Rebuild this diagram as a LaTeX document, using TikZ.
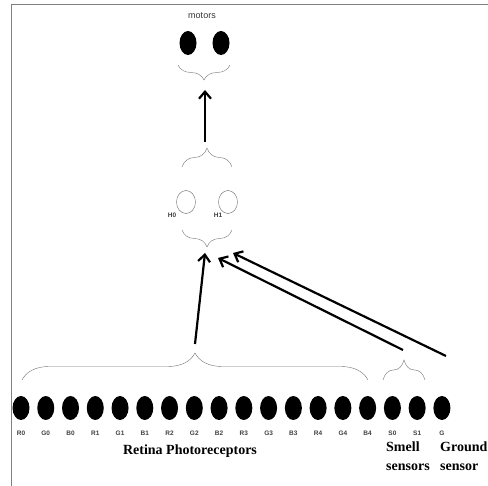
\documentclass[tikz,border=0pt]{standalone}
\usepackage{fontspec}
\setmainfont{Liberation Serif}
\newfontfamily\tagfont{Liberation Sans}
\usetikzlibrary{arrows.meta,shapes.geometric,decorations.pathreplacing}

\tikzset{
  dot/.style={ellipse,fill=black,inner sep=0pt,minimum width=17pt,minimum height=24pt},
  hidden/.style={ellipse,draw=black!60,inner sep=0pt,minimum width=19pt,minimum height=23pt},
  tag/.style={font=\tagfont\bfseries\fontsize{6.5}{7}\selectfont,text=black!75,inner sep=0pt},
  title/.style={font=\bfseries\fontsize{14}{19}\selectfont,inner sep=0pt},
  bracket/.style={draw=black!55,thin,decorate,decoration={brace,amplitude=#1}},
  link/.style={line width=2.2pt,-{Straight Barb[length=7pt,width=12pt,line width=2.2pt]}}
}

\begin{document}
\begin{tikzpicture}[x=1pt,y=-1pt]
\useasboundingbox (0,0) rectangle (488,486);
\draw[black!50,line width=1pt] (11,486) -- (11,5) -- (488,5);

% motors
\node[font=\tagfont\fontsize{9}{10}\selectfont,text=black!80] (motors) at (202,16) {motors};
\node[dot] (m0) at (188,43) {};
\node[dot] (m1) at (221,43) {};
\draw[bracket=15pt] (230,65) -- (178,65);

% hidden layer
\draw[bracket=19pt] (182,167) -- (232,167);
\node[hidden] (h0) at (186,202) {};
\node[hidden] (h1) at (228,202) {};
\node[tag] (th0) at (172,215) {H0};
\node[tag] (th1) at (218,215) {H1};
\draw[bracket=17pt] (232,230) -- (182,230);
\coordinate (hup) at (205,142);
\coordinate (mdown) at (205,90);
\draw[link] (hup) -- (mdown);

% sensors
\foreach \lab [count=\i from 0] in {R0,G0,B0,R1,G1,B1,R2,G2,B2,R3,G3,B3,R4,G4,B4,S0,S1,G}{
  \node[dot] (d\i) at ({21+24.76*\i},408) {};
  \node[tag] (t\i) at ({21+24.76*\i},433) {\lab};
}
\draw[bracket=27pt] (22,380) -- (368,380);
\draw[bracket=20pt] (383,380) -- (425,380);
\coordinate (rtip) at (195,344);
\coordinate (stip) at (403,350);
\coordinate (gtop) at (446,356);
\coordinate (hin1) at (205,253);
\coordinate (hin2) at (218,258);
\coordinate (hin3) at (233,253);
\draw[link] (rtip) -- (hin1);
\draw[link] (stip) -- (hin2);
\draw[link] (gtop) -- (hin3);

\node[title] (retina) at (190,451) {Retina Photoreceptors};
\node[title,anchor=west,align=left] (smell) at (386,456) {Smell\\sensors};
\node[title,anchor=west,align=left] (ground) at (440,456) {Ground\\sensor};
\end{tikzpicture}
\end{document}
